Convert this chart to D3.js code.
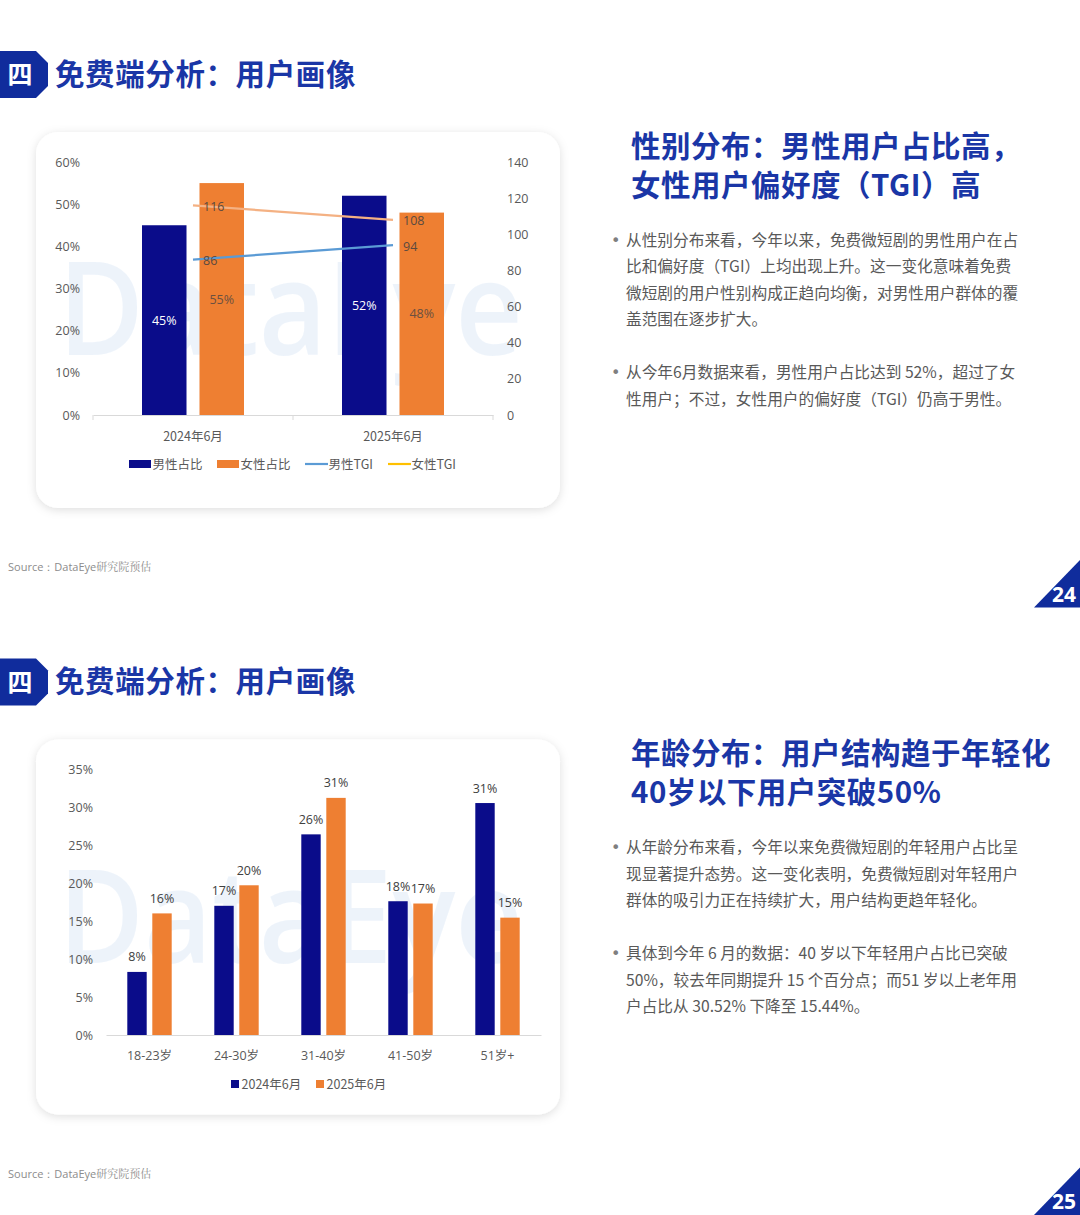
<!DOCTYPE html>
<html><head><meta charset="utf-8">
<script src="https://cdn.jsdelivr.net/npm/d3@7"></script>
<style>
html,body{margin:0;padding:0;background:#fff;}
svg{display:block;font-family:"Noto Sans CJK SC","Noto Sans",sans-serif;}
</style></head>
<body>
<svg id="c" width="1080" height="1215"></svg>
<script>
// ---------- data ----------
const genderCats = ["2024年6月", "2025年6月"];
const genderSeries = ["男性占比", "女性占比"];
const maleShare = [45, 52];
const femaleShare = [55, 48];
const maleTGI = [86, 94];
const femaleTGI = [116, 108];
const leftTicks1 = [0, 10, 20, 30, 40, 50, 60];
const rightTicks1 = [0, 20, 40, 60, 80, 100, 120, 140];

const ageCats = ["18-23岁", "24-30岁", "31-40岁", "41-50岁", "51岁+"];
const ageSeries = ["2024年6月", "2025年6月"];
const age2024 = [8.3, 17.0, 26.4, 17.6, 30.52];
const age2025 = [16.0, 19.7, 31.2, 17.3, 15.44];
const ageTicks = [0, 5, 10, 15, 20, 25, 30, 35];

const headerTitle = "免费端分析：用户画像";
const title1 = ["性别分布：男性用户占比高，", "女性用户偏好度（TGI）高"];
const bullets1 = [
  ["从性别分布来看，今年以来，免费微短剧的男性用户在占", "比和偏好度（TGI）上均出现上升。这一变化意味着免费", "微短剧的用户性别构成正趋向均衡，对男性用户群体的覆", "盖范围在逐步扩大。"],
  ["从今年6月数据来看，男性用户占比达到 52%，超过了女", "性用户；不过，女性用户的偏好度（TGI）仍高于男性。"]
];
const title2 = ["年龄分布：用户结构趋于年轻化", "40岁以下用户突破50%"];
const bullets2 = [
  ["从年龄分布来看，今年以来免费微短剧的年轻用户占比呈", "现显著提升态势。这一变化表明，免费微短剧对年轻用户", "群体的吸引力正在持续扩大，用户结构更趋年轻化。"],
  ["具体到今年 6 月的数据：40 岁以下年轻用户占比已突破", "50%，较去年同期提升 15 个百分点；而51 岁以上老年用", "户占比从 30.52% 下降至 15.44%。"]
];

// ---------- styles ----------
const NAVY = "#0a0c8a", ORANGE = "#ee7f32", BLUE_L = "#5b9bd5", PEACH = "#f4b183", YELLOW = "#ffc000";
const TITLE = "#1a36a6", TXT = "#595959";

const svg = d3.select("#c");
const defs = svg.append("defs");
const f = defs.append("filter").attr("id","sh").attr("x","-10%").attr("y","-10%").attr("width","120%").attr("height","120%");
f.append("feDropShadow").attr("dx",0).attr("dy",2).attr("stdDeviation",5).attr("flood-color","#000").attr("flood-opacity",0.13);

function slideFrame(oy, pageNo, tLines, bullets, cardH) {
  const g = svg.append("g").attr("transform", `translate(0,${oy})`);
  g.append("path").attr("d","M0,51 L36,51 L48,63 L48,86 L36,98 L0,98 Z").attr("fill","#102c9c");
  g.append("text").attr("x",20).attr("y",75).attr("dy","0.36em").attr("text-anchor","middle")
    .attr("fill","#fff").attr("font-size",25).attr("font-weight",700).text("四");
  g.append("text").attr("x",55).attr("y",74).attr("dy","0.36em").attr("fill",TITLE)
    .attr("font-size",29.5).attr("font-weight",700).attr("letter-spacing",0.6).text(headerTitle);
  g.append("rect").attr("x",36).attr("y",132).attr("width",524).attr("height",cardH)
    .attr("rx",22).attr("fill","#fff").attr("filter","url(#sh)");
  tLines.forEach((t,i)=>{
    g.append("text").attr("x",631).attr("y",146+i*39).attr("dy","0.36em").attr("fill",TITLE)
      .attr("font-size",29.5).attr("font-weight",700).attr("letter-spacing",0.5).text(t);
  });
  let y = 240;
  bullets.forEach(b=>{
    g.append("text").attr("x",611).attr("y",y).attr("dy","0.36em").attr("fill","#7f7f7f")
      .attr("font-size",16).attr("font-family","'DejaVu Sans',sans-serif").text("•");
    b.forEach((line,j)=>{
      g.append("text").attr("x",626).attr("y",y+j*26.6).attr("dy","0.36em").attr("fill",TXT)
        .attr("font-size",15.7).text(line);
    });
    y += b.length*26.6 + 26;
  });
  const s = g.append("text").attr("x",8).attr("y",567).attr("dy","0.36em").attr("fill","#8c8c8c").attr("font-size",11);
  s.append("tspan").attr("font-family","'Open Sans',sans-serif").text("Source：DataEye");
  s.append("tspan").attr("font-family","'Noto Serif CJK SC','Noto Sans CJK SC',serif").text("研究院预估");
  g.append("path").attr("d","M1034,607.5 L1080,560 L1080,607.5 Z").attr("fill","#102c9c");
  g.append("text").attr("x",1064).attr("y",594).attr("dy","0.36em").attr("text-anchor","middle").attr("fill","#fff")
    .attr("font-size",21).attr("font-weight",700).attr("font-family","'Open Sans',sans-serif").text(pageNo);
  return g;
}

function watermark(g, x, y) {
  g.append("text").attr("x",x).attr("y",y).attr("fill","#dde9f7").attr("opacity",0.5)
    .attr("font-size",130).attr("font-weight",600).attr("font-family","'Open Sans',sans-serif")
    .attr("textLength",465).attr("lengthAdjust","spacingAndGlyphs").text("DataEye");
}

// ---------- slide 1 ----------
const g1 = slideFrame(0, "24", title1, bullets1, 376);
watermark(g1, 58, 355);
{
  const x0 = d3.scaleBand().domain(genderCats).range([93,493]);
  const x1 = d3.scaleBand().domain(genderSeries).range([49,151]).paddingInner(0.226);
  const yL = d3.scaleLinear().domain([0,60]).range([415,162]);
  const yR = d3.scaleLinear().domain([0,140]).range([415,162]);
  const numFont = "'Open Sans','Noto Sans CJK SC',sans-serif";

  leftTicks1.forEach(t=>g1.append("text").attr("x",80).attr("y",yL(t)).attr("dy","0.36em").attr("text-anchor","end")
    .attr("fill",TXT).attr("font-size",12.5).attr("font-family",numFont).text(t+"%"));
  rightTicks1.forEach(t=>g1.append("text").attr("x",507).attr("y",yR(t)).attr("dy","0.36em")
    .attr("fill",TXT).attr("font-size",12.5).attr("font-family",numFont).text(t));

  const ax = g1.append("g").attr("transform","translate(0,415)")
    .call(d3.axisBottom(x0).tickSizeInner(0).tickSizeOuter(0).tickFormat(""));
  ax.select(".domain").attr("stroke","#d9d9d9");
  [93,293,493].forEach(xx=>g1.append("line").attr("x1",xx).attr("x2",xx).attr("y1",415).attr("y2",420).attr("stroke","#d9d9d9"));
  genderCats.forEach(c=>g1.append("text").attr("x",x0(c)+x0.bandwidth()/2).attr("y",436).attr("dy","0.36em")
    .attr("text-anchor","middle").attr("fill",TXT).attr("font-size",12.5).text(c));

  const vals = {"男性占比":maleShare, "女性占比":femaleShare};
  const cols = {"男性占比":NAVY, "女性占比":ORANGE};
  genderSeries.forEach(s=>{
    genderCats.forEach((c,i)=>{
      const v = vals[s][i];
      const bx = x0(c)+x1(s);
      g1.append("rect").attr("x",bx).attr("y",yL(v)).attr("width",x1.bandwidth()).attr("height",yL(0)-yL(v))
        .attr("fill",cols[s]);
      g1.append("text").attr("x",bx+x1.bandwidth()/2).attr("y",(yL(v)+yL(0))/2).attr("dy","0.36em")
        .attr("text-anchor","middle").attr("font-size",12.5).attr("font-family",numFont)
        .attr("fill", s==="男性占比" ? "#ffffff" : "#6b5040").text(v+"%");
    });
  });
  const cx = c=>x0(c)+x0.bandwidth()/2;
  const line = d3.line().x(d=>cx(d.c)).y(d=>yR(d.v));
  [[femaleTGI,PEACH],[maleTGI,BLUE_L]].forEach(([arr,col])=>{
    const pts = genderCats.map((c,i)=>({c, v:arr[i]}));
    g1.append("path").attr("d",line(pts)).attr("fill","none").attr("stroke",col).attr("stroke-width",2.2);
    pts.forEach(p=>g1.append("text").attr("x",cx(p.c)+10).attr("y",yR(p.v)+1).attr("dy","0.36em")
      .attr("fill","#5a4a40").attr("font-size",12.5).attr("font-family",numFont).text(p.v));
  });
  const leg = [
    {t:"男性占比", x:129, type:"rect", c:NAVY},
    {t:"女性占比", x:217, type:"rect", c:ORANGE},
    {t:"男性TGI", x:305, type:"line", c:BLUE_L},
    {t:"女性TGI", x:388, type:"line", c:YELLOW}
  ];
  leg.forEach(l=>{
    if (l.type==="rect") g1.append("rect").attr("x",l.x).attr("y",460).attr("width",22).attr("height",8).attr("fill",l.c);
    else g1.append("line").attr("x1",l.x).attr("x2",l.x+23).attr("y1",464).attr("y2",464).attr("stroke",l.c).attr("stroke-width",2.2);
    g1.append("text").attr("x",l.x+23.5).attr("y",464).attr("dy","0.36em").attr("fill",TXT).attr("font-size",12.5).text(l.t);
  });
}

// ---------- slide 2 ----------
const g2 = slideFrame(607.5, "25", title2, bullets2, 375);
watermark(g2, 58, 355);
{
  const base = 1035-607.5, top = 769-607.5;
  const x0 = d3.scaleBand().domain(ageCats).range([106,541]);
  const x1 = d3.scaleBand().domain(ageSeries).range([21.3,65.7]).paddingInner(0.224);
  const y = d3.scaleLinear().domain([0,35]).range([base,top]);
  const numFont = "'Open Sans','Noto Sans CJK SC',sans-serif";

  ageTicks.forEach(t=>g2.append("text").attr("x",93).attr("y",y(t)).attr("dy","0.36em").attr("text-anchor","end")
    .attr("fill",TXT).attr("font-size",12.5).attr("font-family",numFont).text(t+"%"));
  const ax = g2.append("g").attr("transform",`translate(0,${base})`)
    .call(d3.axisBottom(x0).tickSize(0).tickFormat(""));
  ax.select(".domain").attr("stroke","#d9d9d9");
  ageCats.forEach(c=>g2.append("text").attr("x",x0(c)+x0.bandwidth()/2).attr("y",1055-607.5).attr("dy","0.36em")
    .attr("text-anchor","middle").attr("fill",TXT).attr("font-size",12.5).attr("font-family",numFont).text(c));

  const vals = {"2024年6月":age2024, "2025年6月":age2025};
  const cols = {"2024年6月":NAVY, "2025年6月":ORANGE};
  ageSeries.forEach(s=>{
    ageCats.forEach((c,i)=>{
      const v = vals[s][i];
      const bx = x0(c)+x1(s);
      g2.append("rect").attr("x",bx).attr("y",y(v)).attr("width",x1.bandwidth()).attr("height",y(0)-y(v))
        .attr("fill",cols[s]);
      g2.append("text").attr("x",bx+x1.bandwidth()/2).attr("y",y(v)-15).attr("dy","0.36em")
        .attr("text-anchor","middle").attr("fill","#404040").attr("font-size",12.5).attr("font-family",numFont)
        .text(Math.round(v)+"%");
    });
  });
  [{t:"2024年6月",x:231,c:NAVY},{t:"2025年6月",x:316,c:ORANGE}].forEach(l=>{
    g2.append("rect").attr("x",l.x).attr("y",1084-607.5-4).attr("width",8).attr("height",8).attr("fill",l.c);
    g2.append("text").attr("x",l.x+10.5).attr("y",1084-607.5).attr("dy","0.36em").attr("fill",TXT)
      .attr("font-size",12.5).text(l.t);
  });
}
</script>
</body></html>
